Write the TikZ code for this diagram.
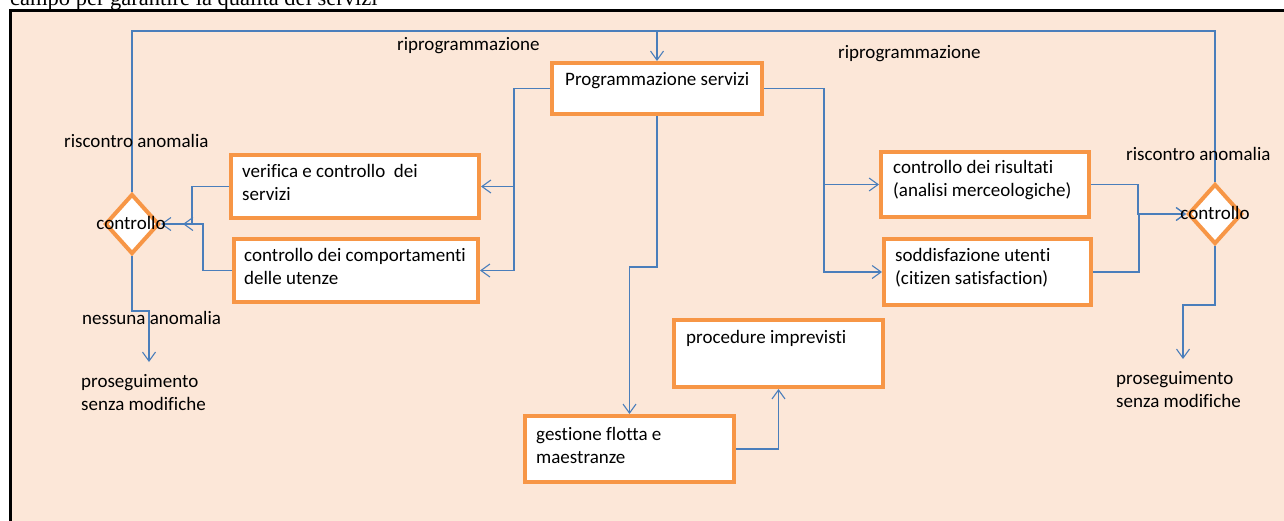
\documentclass[tikz,border=0pt]{standalone}
\usepackage{fontspec}
\setmainfont{Carlito}[Ligatures=NoCommon]
\newfontfamily\tnr{Liberation Serif}
\usetikzlibrary{arrows.meta,shapes.geometric,calc}
\definecolor{peach}{HTML}{FCE7D8}
\definecolor{obr}{HTML}{F79646}
\definecolor{cblue}{HTML}{4A7EBB}
\begin{document}
\begin{tikzpicture}[x=1pt,y=-1pt,
  box/.style={draw=obr, line width=4pt, fill=white, inner sep=0pt},
  dia/.style={diamond, draw=obr, line width=4pt, fill=white, inner sep=0pt,
              minimum width=54pt, minimum height=60pt},
  conn/.style={draw=cblue, line width=1.1pt},
  arr/.style={conn, -{Straight Barb[length=9pt,width=13pt,line width=1.1pt]}},
  txt/.style={font=\fontsize{19}{23}\selectfont, inner sep=0pt, align=left, text=black, anchor=base west},
  lbl/.style={txt},
  title/.style={font=\tnr\fontsize{22.5}{27}\selectfont, inner sep=0pt, anchor=base west}
]
\useasboundingbox (0,0) rectangle (1284,520);
\clip (0,0) rectangle (1284,520);
\fill[white] (0,0) rectangle (1284,520);
\node[title] (ttl) at (10,5) {campo per garantire la qualità dei servizi};
% frame
\fill[peach] (10.5,10.5) rectangle (1290,530);
\draw[line width=3pt] (10.5,530) -- (10.5,10.5) -- (1290,10.5);

% boxes
\node[box, minimum width=210pt, minimum height=51pt] (prog) at (657,88.5) {};
\node[box, minimum width=248pt, minimum height=63pt] (ver) at (355,186.5) {};
\node[box, minimum width=244pt, minimum height=63pt] (comp) at (356,270.5) {};
\node[box, minimum width=208pt, minimum height=65pt] (ris) at (985,184.5) {};
\node[box, minimum width=207pt, minimum height=66pt] (sod) at (987.5,272) {};
\node[box, minimum width=209pt, minimum height=67pt] (proc) at (778.5,353.5) {};
\node[box, minimum width=209pt, minimum height=66pt] (gest) at (629.5,449) {};
\node[dia] (dl) at (132,224) {};
\node[dia] (dr) at (1215,214) {};

% box texts (base anchor = baseline of the last line)
\node[txt] (tprog) at (565,85) {Programmazione servizi};
\node[txt] (tver) at (242,200) {verifica e controllo\ \ dei\\servizi};
\node[txt] (tcomp) at (244,284) {controllo dei comportamenti\\delle utenze};
\node[txt] (tris) at (893,196) {controllo dei risultati\\(analisi merceologiche)};
\node[txt] (tsod) at (895,284) {soddisfazione utenti\\(citizen satisfaction)};
\node[txt] (tproc) at (686,343) {procedure imprevisti};
\node[txt] (tgest) at (536,463) {gestione flotta e\\maestranze};

% connectors
\coordinate (top) at (657,31);
\draw[conn] (dl.north) |- (top) -| (dr.north);
\draw[arr] (top) -- (prog.north);

\draw[arr] (prog.west) -- ++(-36,0) coordinate (pl) |- (ver.east);
\draw[arr] (pl) |- (comp.east);
\draw[arr] (prog.east) -- ++(60,0) coordinate (pr) |- (ris.west);
\draw[arr] (pr) |- (sod.west);

\draw[arr] (ver.west) -- ++(-37,0) |- ($(dl.east)+(22,0)$);
\draw[arr] (comp.west) -- ++(-29,0) |- (dl.east);
\draw[arr] (ris.east) -- ++(47,0) |- (dr.west);
\draw[arr] (sod.east) -- ++(46,0) |- (dr.west);

\draw[arr] (prog.south) -- ++(0,151) -| (gest.north);
\draw[arr] (gest.east) -| (proc.south);

\coordinate (okl) at (149,362);
\coordinate (okr) at (1183,359);
\draw[arr] (dl.south) -- ++(0,55) -| (okl);
\draw[arr] (dr.south) -- ++(0,59) -| (okr);

% labels
\node[lbl] (l1) at (397,50) {riprogrammazione};
\node[lbl] (l2) at (838,58) {riprogrammazione};
\node[lbl] (l3) at (64,147) {riscontro anomalia};
\node[lbl] (l4) at (1126,160) {riscontro anomalia};
\node[lbl, anchor=base] (c1) at (131,229) {controllo};
\node[lbl, anchor=base] (c2) at (1215,219) {controllo};
\node[lbl] (l5) at (82,324) {nessuna anomalia};
\node[lbl] (l6) at (81,410) {proseguimento\\senza modifiche};
\node[lbl] (l7) at (1116,407) {proseguimento\\senza modifiche};
\end{tikzpicture}
\end{document}
